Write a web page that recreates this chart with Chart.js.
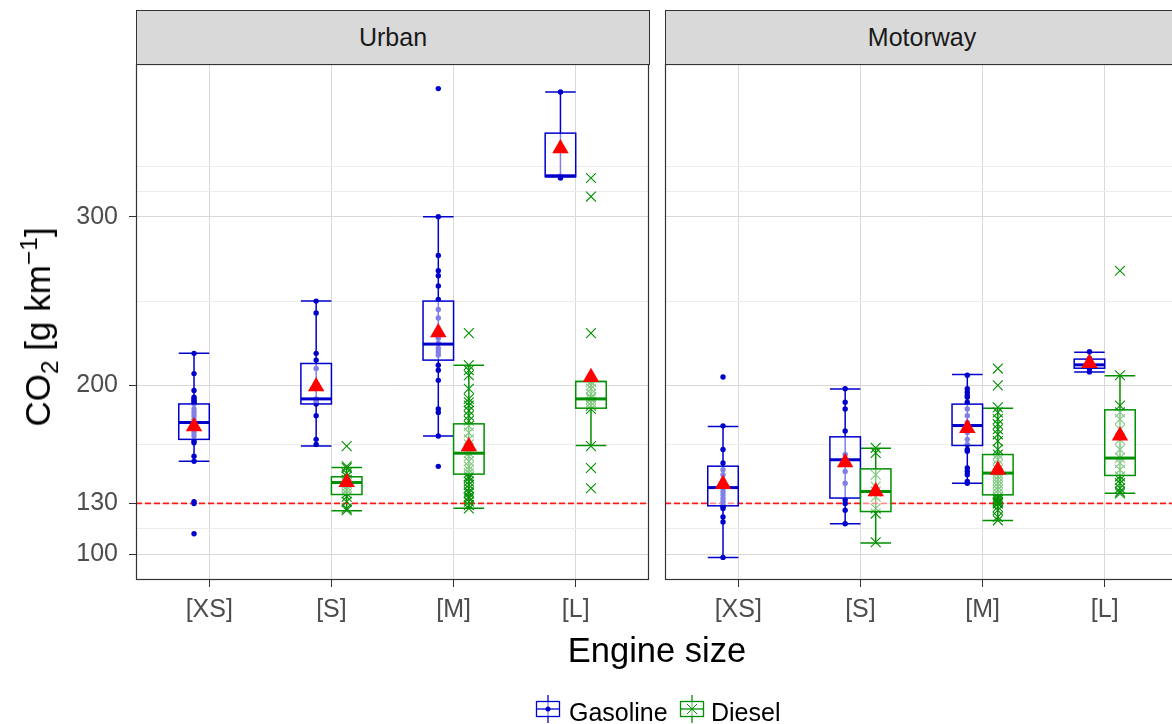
<!DOCTYPE html>
<html>
<head>
<meta charset="utf-8">
<script src="https://cdn.jsdelivr.net/npm/chart.js@4.4.1/dist/chart.umd.min.js"></script>
<style>
	html, body { margin: 0; padding: 0; background: #fff; overflow: hidden; }
	body { width: 1172px; height: 724px; position: relative; font-family: 'Liberation Sans', Arial, sans-serif; }
	canvas { position: absolute; top: 0; }
	#urban { left: 0; }
	#motorway { left: 650px; }
	.strip { position: absolute; top: 10px; height: 55px; width: 514px; box-sizing: border-box;
		background: #d9d9d9; border: 1px solid #333; color: #1a1a1a; font-size: 25px;
		display: flex; align-items: center; justify-content: center; }
	#ytitle { position: absolute; left: 38px; top: 327px; transform: translate(-50%, -50%) rotate(-90deg);
		font-size: 35px; white-space: nowrap; color: #000; }
	#ytitle sub, #ytitle sup { font-size: 70%; line-height: 0; }
	#xtitle { position: absolute; left: 657px; top: 650px; transform: translate(-50%, -50%);
		font-size: 34.5px; white-space: nowrap; color: #000; }
	.key { position: absolute; top: 694px; }
	.ltext { position: absolute; top: 697px; font-size: 25px; line-height: 30px; color: #000; }
</style>
</head>
<body>
<canvas id="urban" width="650" height="724"></canvas>
<canvas id="motorway" width="535" height="724"></canvas>
<div class="strip" style="left:136px">Urban</div>
<div class="strip" style="left:665px">Motorway</div>
<div id="ytitle">CO<sub>2</sub> [g km<sup>−1</sup>]</div>
<div id="xtitle">Engine size</div>

<svg class="key" style="left:535px" width="26" height="30">
	<line x1="13" y1="1" x2="13" y2="29" stroke="#0000cd" stroke-width="1.3"/>
	<rect x="1.5" y="7.5" width="23" height="15" fill="#fff" fill-opacity="0.5" stroke="#0000cd" stroke-width="1.3"/>
	<line x1="1.5" y1="15" x2="24.5" y2="15" stroke="#0000cd" stroke-width="1.3"/>
	<circle cx="13" cy="15" r="2.5" fill="#0000cd"/>
</svg>
<div class="ltext" style="left:569px">Gasoline</div>
<svg class="key" style="left:679px" width="26" height="30">
	<line x1="13" y1="1" x2="13" y2="29" stroke="#009000" stroke-width="1.3"/>
	<rect x="1.5" y="7.5" width="23" height="15" fill="#fff" fill-opacity="0.5" stroke="#009000" stroke-width="1.3"/>
	<line x1="1.5" y1="15" x2="24.5" y2="15" stroke="#009000" stroke-width="1.3"/>
	<path d="M8 10 L18 20 M18 10 L8 20" stroke="#009000" stroke-width="1"/>
</svg>
<div class="ltext" style="left:711px">Diesel</div>

<script>
const sizes = ['[XS]', '[S]', '[M]', '[L]'];
const yBreaks = [100, 130, 200, 300];
const yMinor = [115, 165, 250, 315, 330];
const limitCO2 = 130;

// CO2 per vehicle, one array per engine size
const urbanGasoline = [
	[219, 207, 197, 193, 192, 191, 190, 189, 186, 184, 182, 180, 178, 176, 174, 172, 170, 167, 166, 158, 155, 131, 130, 112],
	[250, 243, 219, 215, 210, 200, 192, 191, 190, 189, 182, 168, 165],
	[376, 300, 277, 268, 265, 259, 251, 245, 240, 232, 228, 225, 222, 220, 218, 212, 209, 203, 186, 184, 170, 152],
	[374, 324, 323]
];
const urbanDiesel = [
	[],
	[164, 152, 151, 148, 146, 144, 143, 142, 140, 138, 136, 134, 131, 127, 126],
	[231, 212, 209, 206, 198, 192, 190, 188, 185, 182, 179, 176, 172, 168, 165, 162, 160, 158, 155, 152, 150, 148, 146, 145, 143, 141, 139, 137, 136, 134, 133, 131, 129, 127],
	[323, 312, 231, 202, 200, 198, 195, 193, 192, 190, 188, 186, 164, 151, 139]
];
const motorwayGasoline = [
	[205, 176, 162, 154, 150, 147, 144, 141, 139, 137, 135, 133, 131, 129, 128, 127, 122, 119, 98],
	[198, 190, 186, 173, 159, 156, 149, 142, 132, 130, 126, 118],
	[206, 198, 196, 194, 193, 190, 186, 182, 178, 175, 172, 168, 165, 162, 161, 151, 149, 147, 143, 142],
	[220, 216, 212, 210, 208]
];
const motorwayDiesel = [
	[],
	[163, 160, 147, 140, 137, 134, 127, 124, 107],
	[210, 200, 187, 184, 180, 177, 174, 171, 167, 162, 159, 156, 153, 150, 148, 146, 144, 142, 140, 138, 136, 134, 133, 132, 131, 130, 130, 128, 126, 122, 120],
	[268, 206, 188, 184, 180, 174, 168, 162, 157, 154, 150, 146, 144, 142, 139, 137, 136]
];

// box stats: [lower whisker, q1, median, q3, upper whisker]
const urbanGasolineBox = [[155, 168, 178, 189, 219], [164, 189, 192, 213, 250], [170, 215, 224.5, 250, 300], [323.8, 323.8, 324.3, 349.6, 374]];
const urbanDieselBox = [null, [125.6, 135.3, 142.4, 145.8, 151.3], [127.2, 147.4, 159.8, 177.2, 212], [164.4, 186.5, 192, 202.3, 202.3]];
const motorwayGasolineBox = [[98, 128.6, 139.4, 152.1, 175.6], [117.9, 133.2, 155.9, 169.5, 197.8], [142, 164.4, 176.2, 188.9, 206.5], [207.9, 210.2, 212.2, 215.6, 219.7]];
const motorwayDieselBox = [null, [106.5, 125.2, 137.1, 150.5, 162.8], [119.9, 135.1, 148, 159, 186.5], [136.1, 146.6, 156.9, 185.5, 205.7]];

const urbanGasolineMean = [175.6, 199.4, 231.4, 340.5];
const urbanDieselMean = [null, 142.5, 163.8, 204.9];
const motorwayGasolineMean = [141.4, 154.3, 174.6, 213.2];
const motorwayDieselMean = [null, 137.1, 149.9, 170.1];

const gasColor = '#0000cd';
const dieselColor = '#009000';
const dodge = 0.125;
const boxHalf = 0.125;
const font = "'Liberation Sans', Arial, sans-serif";

function toPoints(groups, offset) {
	return groups.flatMap((vals, i) => vals.map(v => ({x: i + 1 + offset, y: v})));
}

function meanPoints(gas, dsl) {
	const pts = [];
	gas.forEach((m, i) => { if (m != null) pts.push({x: i + 1 - dodge, y: m}); });
	dsl.forEach((m, i) => { if (m != null) pts.push({x: i + 1 + dodge, y: m}); });
	return pts;
}

// errorbars + boxes, drawn with the chart's own scales
function boxPlugin(gasBox, dslBox) {
	const each = (fn) => {
		gasBox.forEach((b, i) => b && fn(b, i + 1 - dodge, gasColor));
		dslBox.forEach((b, i) => b && fn(b, i + 1 + dodge, dieselColor));
	};
	return {
		id: 'boxes',
		beforeDatasetsDraw(chart) {
			const {ctx, scales: {x, y}} = chart;
			ctx.save();
			ctx.lineWidth = 1.5;
			each((b, cx, col) => {
				const xm = x.getPixelForValue(cx);
				const x0 = x.getPixelForValue(cx - boxHalf), x1 = x.getPixelForValue(cx + boxHalf);
				const lo = y.getPixelForValue(b[0]), hi = y.getPixelForValue(b[4]);
				ctx.strokeStyle = col;
				ctx.beginPath();
				ctx.moveTo(xm, lo); ctx.lineTo(xm, hi);
				ctx.moveTo(x0, lo); ctx.lineTo(x1, lo);
				ctx.moveTo(x0, hi); ctx.lineTo(x1, hi);
				ctx.stroke();
			});
			ctx.restore();
		},
		beforeDatasetDraw(chart, args) {
			if (args.index !== 0) return;
			const {ctx, scales: {x, y}} = chart;
			ctx.save();
			each((b, cx, col) => {
				const x0 = x.getPixelForValue(cx - boxHalf), x1 = x.getPixelForValue(cx + boxHalf);
				const q1 = y.getPixelForValue(b[1]), med = y.getPixelForValue(b[2]), q3 = y.getPixelForValue(b[3]);
				ctx.fillStyle = 'rgba(255,255,255,0.5)';
				ctx.fillRect(x0, q3, x1 - x0, q1 - q3);
				ctx.strokeStyle = col;
				ctx.lineWidth = 1.5;
				ctx.strokeRect(x0, q3, x1 - x0, q1 - q3);
				ctx.lineWidth = 3;
				ctx.beginPath();
				ctx.moveTo(x0, med); ctx.lineTo(x1, med);
				ctx.stroke();
			});
			ctx.restore();
		},
		afterDraw(chart) {
			const {ctx, chartArea: a} = chart;
			ctx.save();
			ctx.strokeStyle = '#333333';
			ctx.lineWidth = 1.2;
			ctx.strokeRect(a.left + 0.5, a.top + 0.5, a.right - a.left - 1, a.bottom - a.top - 1);
			ctx.restore();
		}
	};
}

function makeFacet(id, gas, dsl, gasBox, dslBox, gasMean, dslMean, showY, padding) {
	return new Chart(document.getElementById(id), {
		type: 'scatter',
		data: {
			datasets: [
				{
					label: 'Mean',
					data: meanPoints(gasMean, dslMean),
					pointStyle: 'triangle',
					pointRadius: 9.5,
					pointBackgroundColor: '#ff0000',
					pointBorderWidth: 0
				},
				{
					label: 'Gasoline',
					data: toPoints(gas, -dodge),
					pointStyle: 'circle',
					pointRadius: 2.7,
					pointBackgroundColor: gasColor,
					pointBorderWidth: 0
				},
				{
					label: 'Diesel',
					data: toPoints(dsl, dodge),
					pointStyle: 'crossRot',
					pointRadius: 7,
					pointBorderColor: dieselColor,
					pointBorderWidth: 1.1
				},
				{
					type: 'line',
					label: 'Limit',
					data: [{x: 0.4, y: limitCO2}, {x: 4.6, y: limitCO2}],
					borderColor: '#ff1a1a',
					borderWidth: 1.7,
					borderDash: [6, 3],
					borderCapStyle: 'butt',
					pointRadius: 0,
					fill: false
				}
			]
		},
		options: {
			responsive: false,
			animation: false,
			events: [],
			devicePixelRatio: 1,
			layout: { padding: padding, autoPadding: false },
			plugins: { legend: { display: false }, tooltip: { enabled: false } },
			scales: {
				x: {
					type: 'linear',
					min: 0.4,
					max: 4.6,
					afterBuildTicks: s => { s.ticks = sizes.map((_, i) => ({value: i + 1})); },
					afterFit: s => { s.height = 144; },
					border: { display: false },
					grid: { color: '#d9d9d9', lineWidth: 1, tickColor: '#333333', tickLength: 7 },
					ticks: {
						autoSkip: false, maxRotation: 0, minRotation: 0, padding: 8,
						color: '#4d4d4d', font: { family: font, size: 25 },
						callback: v => sizes[v - 1]
					}
				},
				y: {
					type: 'linear',
					min: 84.6,
					max: 390.6,
					afterBuildTicks: s => { s.ticks = yBreaks.concat(yMinor).sort((a, b) => a - b).map(v => ({value: v})); },
					afterFit: s => { s.width = showY ? 136 : 15; },
					border: { display: false },
					grid: {
						color: c => yBreaks.includes(c.tick.value) ? '#d9d9d9' : '#ececec',
						lineWidth: 1,
						drawTicks: showY,
						tickLength: 7,
						tickColor: c => yBreaks.includes(c.tick.value) ? '#333333' : 'rgba(0,0,0,0)'
					},
					ticks: {
						display: showY,
						padding: 11,
						color: '#4d4d4d',
						font: { family: font, size: 25 },
						callback: v => yBreaks.includes(v) ? String(v) : ''
					}
				}
			}
		},
		plugins: [boxPlugin(gasBox, dslBox)]
	});
}

makeFacet('urban', urbanGasoline, urbanDiesel, urbanGasolineBox, urbanDieselBox, urbanGasolineMean, urbanDieselMean,
	true, {top: 64, left: 0, right: 1, bottom: 0});
makeFacet('motorway', motorwayGasoline, motorwayDiesel, motorwayGasolineBox, motorwayDieselBox, motorwayGasolineMean, motorwayDieselMean,
	false, {top: 64, left: 0, right: 7, bottom: 0});
</script>
</body>
</html>
